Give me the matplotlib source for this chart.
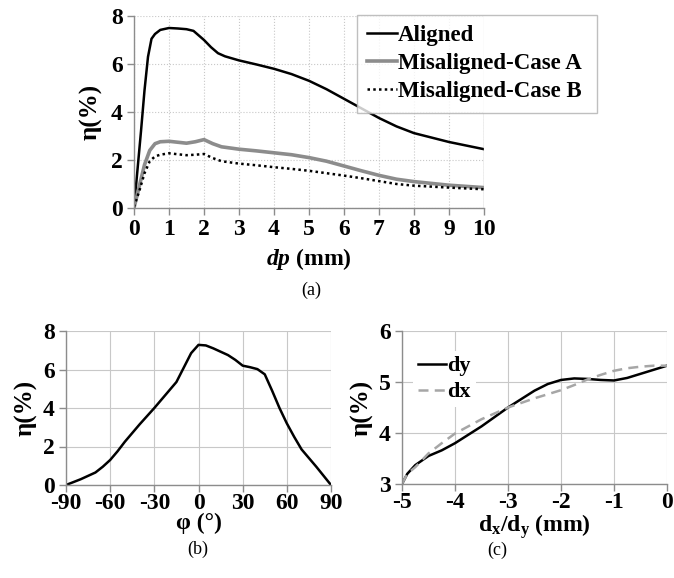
import matplotlib as mpl
import matplotlib.pyplot as plt
import numpy as np

mpl.rcParams['font.family'] = ['Liberation Serif', 'DejaVu Serif']
mpl.rcParams['font.weight'] = 'bold'
mpl.rcParams['axes.unicode_minus'] = False
mpl.rcParams['mathtext.fontset'] = 'custom'
mpl.rcParams['mathtext.rm'] = 'Liberation Serif:bold'
mpl.rcParams['mathtext.bf'] = 'Liberation Serif:bold'
mpl.rcParams['mathtext.it'] = 'Liberation Serif:bold:italic'

# (a) efficiency vs dp
dp = [0, 0.1, 0.2, 0.3, 0.4, 0.5, 0.6, 0.75, 1.0, 1.25, 1.5, 1.7, 2.0, 2.2, 2.4, 2.6, 3, 3.5, 4, 4.5, 5, 5.5, 6, 6.5, 7, 7.5, 8, 9, 10]
eta_aligned = [0, 1.6, 3.2, 4.9, 6.3, 7.05, 7.25, 7.42, 7.5, 7.48, 7.45, 7.38, 7.0, 6.7, 6.45, 6.32, 6.15, 5.98, 5.8, 5.58, 5.3, 4.95, 4.55, 4.15, 3.75, 3.4, 3.12, 2.75, 2.45]
dp_b = [0, 0.15, 0.3, 0.45, 0.6, 0.75, 1.0, 1.25, 1.5, 1.75, 2.0, 2.25, 2.5, 3, 3.5, 4, 4.5, 5, 5.5, 6, 6.5, 7, 7.5, 8, 9, 10]
eta_case_a = [0, 0.9, 1.8, 2.4, 2.68, 2.76, 2.78, 2.74, 2.7, 2.76, 2.85, 2.68, 2.55, 2.45, 2.38, 2.3, 2.22, 2.1, 1.95, 1.75, 1.55, 1.36, 1.2, 1.1, 0.95, 0.85]
eta_case_b = [0.05, 0.7, 1.45, 1.95, 2.15, 2.22, 2.28, 2.24, 2.2, 2.22, 2.25, 2.08, 1.95, 1.85, 1.78, 1.7, 1.63, 1.55, 1.45, 1.35, 1.24, 1.12, 1.0, 0.93, 0.85, 0.78]

# (b) efficiency vs angle
phi = [-90, -80, -70, -65, -60, -55, -50, -40, -30, -20, -15, -10, -5, 0, 5, 10, 20, 25, 30, 35, 40, 45, 50, 55, 60, 65, 70, 80, 90]
eta_phi = [0, 0.3, 0.65, 0.95, 1.3, 1.75, 2.25, 3.15, 4.0, 4.9, 5.35, 6.1, 6.85, 7.28, 7.25, 7.1, 6.75, 6.5, 6.2, 6.12, 6.02, 5.75, 4.9, 4.0, 3.2, 2.5, 1.85, 0.95, 0]

# (c) efficiency vs lateral offset
d_off = [-5, -4.9, -4.75, -4.5, -4.25, -4, -3.5, -3, -2.5, -2.25, -2, -1.75, -1.5, -1.25, -1, -0.75, -0.5, -0.25, 0]
eta_dy = [3.0, 3.2, 3.37, 3.55, 3.66, 3.8, 4.13, 4.5, 4.83, 4.96, 5.04, 5.07, 5.06, 5.04, 5.03, 5.08, 5.16, 5.24, 5.32]
eta_dx = [3.0, 3.2, 3.33, 3.6, 3.8, 3.99, 4.27, 4.5, 4.68, 4.76, 4.84, 4.94, 5.05, 5.14, 5.22, 5.27, 5.3, 5.32, 5.32]

W, H = 674, 578
fig = plt.figure(figsize=(W / 100, H / 100), dpi=100)


def box(x0, x1, y0, y1):
    # pixel box -> figure coords
    return [x0 / W, 1 - y1 / H, (x1 - x0) / W, (y1 - y0) / H]


def style(ax, grid_ls):
    for s in ['top', 'right']:
        ax.spines[s].set_visible(False)
    for s in ['left', 'bottom']:
        ax.spines[s].set_color('#8c8c8c')
        ax.spines[s].set_linewidth(1.0)
    ax.tick_params(direction='out', length=5, width=1, color='#8c8c8c',
                   labelsize=17, pad=3)
    ax.grid(True, color='#c8c8c8', linestyle=grid_ls, linewidth=0.8)
    ax.set_axisbelow(True)
    for lab in ax.get_xticklabels() + ax.get_yticklabels():
        lab.set_fontweight('bold')


# ---- (a)
ax1 = fig.add_axes(box(134, 484, 16, 208))
ax1.plot(dp, eta_aligned, color='black', lw=1.8, label='Aligned')
ax1.plot(dp_b, eta_case_a, color='#8c8c8c', lw=2.6, label='Misaligned-Case A')
ax1.plot(dp_b, eta_case_b, color='black', lw=1.8, ls=(0, (1, 1.3)), label='Misaligned-Case B')
ax1.set_xlim(0, 10)
ax1.set_ylim(0, 8)
ax1.set_xticks(range(0, 11))
ax1.set_yticks(range(0, 9, 2))
style(ax1, ':')
ax1.axvline(10, color='#b0b0b0', lw=1.0)
ax1.set_ylabel('η(%)', fontsize=18, fontweight='bold', labelpad=6)
ax1.set_xlabel(r'$\mathit{dp}$ (mm)', fontsize=17, fontweight='bold', labelpad=4)
leg = ax1.legend(loc='upper left', bbox_to_anchor=(357 / W, 1 - 115 / H, 240 / W, 100 / H),
                 bbox_transform=fig.transFigure, mode='expand', frameon=True, fancybox=False,
                 prop={'size': 16.5, 'weight': 'bold'}, handlelength=1.3, handletextpad=0.05,
                 labelspacing=0.3, borderpad=0.45, borderaxespad=0)
leg.get_frame().set_edgecolor('#b0b0b0')
leg.get_frame().set_linewidth(1.0)
fig.text(311 / W, 1 - 290 / H, '(a)', ha='center', va='center', fontsize=13, fontweight='normal')

# ---- (b)
ax2 = fig.add_axes(box(66, 331, 331, 485))
ax2.plot(phi, eta_phi, color='black', lw=1.8)
ax2.set_xlim(-90, 90)
ax2.set_ylim(0, 8)
ax2.set_xticks(range(-90, 91, 30))
ax2.set_yticks(range(0, 9, 2))
style(ax2, '-')
ax2.tick_params(axis='x', pad=1)
ax2.set_ylabel('η(%)', fontsize=18, fontweight='bold', labelpad=4)
ax2.set_xlabel('φ (°)', fontsize=17, fontweight='bold', labelpad=-1)
fig.text(198 / W, 1 - 549 / H, '(b)', ha='center', va='center', fontsize=13, fontweight='normal')

# ---- (c)
ax3 = fig.add_axes(box(402, 667, 331, 484))
ax3.plot(d_off, eta_dy, color='black', lw=1.8, label='dy')
ax3.plot(d_off, eta_dx, color='#a6a6a6', lw=1.8, ls=(0, (4, 2.5)), label='dx')
ax3.set_xlim(-5, 0)
ax3.set_ylim(3, 6)
ax3.set_xticks(range(-5, 1))
ax3.set_yticks(range(3, 7))
style(ax3, '-')
ax3.tick_params(axis='x', pad=1)
ax3.set_ylabel('η(%)', fontsize=18, fontweight='bold', labelpad=4)
ax3.set_xlabel(r'd$_{\mathbf{x}}$/d$_{\mathbf{y}}$ (mm)', fontsize=17, fontweight='bold', labelpad=-1)
leg3 = ax3.legend(loc='upper left', bbox_to_anchor=(0.0, 0.94), frameon=True, fancybox=False,
                  prop={'size': 16, 'weight': 'bold'}, handlelength=1.3, handletextpad=0.05,
                  labelspacing=0.25, borderpad=0.2)
leg3.get_frame().set_edgecolor('none')
leg3.get_frame().set_facecolor('white')
leg3.get_frame().set_alpha(1)
fig.text(497 / W, 1 - 550 / H, '(c)', ha='center', va='center', fontsize=13, fontweight='normal')

fig.savefig('out.png', dpi=100)
